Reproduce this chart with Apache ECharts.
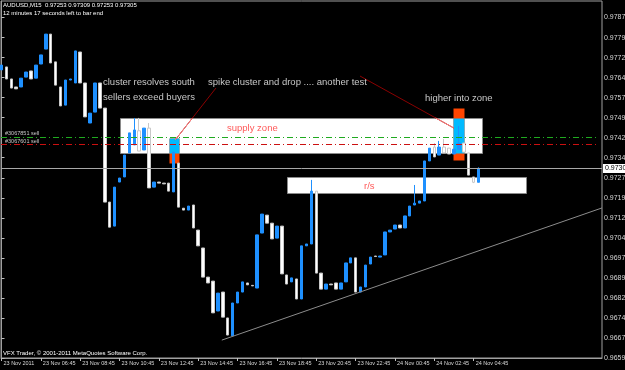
<!DOCTYPE html>
<html><head><meta charset="utf-8">
<script src="https://cdn.jsdelivr.net/npm/echarts@6/dist/echarts.min.js"></script>
<style>html,body{margin:0;padding:0;background:#000;}#c{width:625px;height:370px;}</style>
</head><body><div id="c"></div>
<script>
// ---- data (AUDUSD M15, 23 Nov 2011 04:45 -> 24 Nov 05:00) ----
const opens = [0.97674,0.97685,0.97640,0.97610,0.97610,0.97647,0.97670,0.97643,0.97696,0.97752,
0.97808,0.97704,0.97610,0.97542,0.97636,0.97625,0.97741,0.97625,0.97475,0.97516,
0.97625,0.97531,0.97179,0.97089,0.97254,0.97273,0.97363,0.97393,0.97446,0.97374,
0.97456,0.97235,0.97254,0.97250,0.97250,0.97217,0.97325,0.97156,0.97149,0.97168,
0.97074,0.97007,0.96898,0.96883,0.96771,0.96842,0.96745,0.96678,0.96801,0.96842,
0.96876,0.96867,0.96857,0.97063,0.97130,0.97100,0.97044,0.97089,0.96906,0.96880,
0.96891,0.96816,0.97015,0.97022,0.97220,0.96913,0.96853,0.96872,0.96876,0.96853,
0.96880,0.96951,0.96970,0.96842,0.96861,0.96947,0.96977,0.96973,0.96981,0.97067,
0.97078,0.97093,0.97082,0.97127,0.97168,0.97175,0.97183,0.97333,0.97385,0.97355,
0.97385,0.97381,0.97359,0.97377,0.97400,0.97363,0.97273,0.97253];
const closes = [0.97692,0.97640,0.97606,0.97603,0.97643,0.97666,0.97640,0.97692,0.97730,0.97808,
0.97700,0.97617,0.97539,0.97636,0.97640,0.97745,0.97625,0.97498,0.97512,0.97625,
0.97531,0.97179,0.97085,0.97235,0.97269,0.97355,0.97438,0.97449,0.97370,0.97456,
0.97232,0.97254,0.97250,0.97247,0.97220,0.97366,0.97160,0.97149,0.97164,0.97082,
0.97015,0.96898,0.96876,0.96764,0.96838,0.96748,0.96681,0.96801,0.96842,0.96880,
0.96869,0.96865,0.97056,0.97134,0.97100,0.97041,0.97089,0.96910,0.96872,0.96895,
0.96816,0.97015,0.97022,0.97220,0.96913,0.96853,0.96872,0.96869,0.96853,0.96876,
0.96951,0.96970,0.96842,0.96861,0.96943,0.96973,0.96975,0.96977,0.97067,0.97074,
0.97093,0.97082,0.97127,0.97164,0.97175,0.97183,0.97333,0.97381,0.97348,0.97385,
0.97363,0.97359,0.97377,0.97400,0.97366,0.97280,0.97253,0.97305];
const lows = [0.97674,0.97640,0.97606,0.97603,0.97610,0.97647,0.97640,0.97643,0.97696,0.97752,
0.97700,0.97617,0.97539,0.97542,0.97636,0.97625,0.97625,0.97498,0.97475,0.97516,
0.97531,0.97179,0.97085,0.97089,0.97254,0.97273,0.97363,0.97393,0.97370,0.97374,
0.97232,0.97235,0.97250,0.97247,0.97220,0.97217,0.97160,0.97149,0.97149,0.97082,
0.97015,0.96898,0.96876,0.96764,0.96771,0.96748,0.96681,0.96678,0.96801,0.96842,
0.96869,0.96865,0.96857,0.97063,0.97100,0.97041,0.97044,0.96910,0.96872,0.96880,
0.96816,0.96816,0.97015,0.97022,0.96913,0.96853,0.96853,0.96869,0.96853,0.96853,
0.96880,0.96951,0.96842,0.96842,0.96861,0.96947,0.96975,0.96973,0.96981,0.97067,
0.97078,0.97082,0.97082,0.97127,0.97168,0.97175,0.97183,0.97333,0.97348,0.97355,
0.97363,0.97359,0.97359,0.97377,0.97366,0.97280,0.97250,0.97253];
const highs = [0.97692,0.97685,0.97640,0.97610,0.97643,0.97666,0.97670,0.97692,0.97730,0.97808,
0.97808,0.97704,0.97610,0.97636,0.97640,0.97745,0.97741,0.97625,0.97512,0.97625,
0.97625,0.97531,0.97179,0.97235,0.97269,0.97355,0.97438,0.97494,0.97494,0.97456,
0.97475,0.97254,0.97254,0.97250,0.97250,0.97366,0.97325,0.97156,0.97164,0.97168,
0.97074,0.97007,0.96898,0.96883,0.96838,0.96842,0.96745,0.96801,0.96842,0.96880,
0.96876,0.96867,0.97056,0.97134,0.97130,0.97100,0.97089,0.97089,0.96906,0.96895,
0.96891,0.97015,0.97022,0.97262,0.97220,0.96913,0.96872,0.96872,0.96876,0.96876,
0.96951,0.96970,0.96970,0.96861,0.96943,0.96973,0.96977,0.96977,0.97067,0.97074,
0.97093,0.97093,0.97127,0.97164,0.97243,0.97183,0.97333,0.97381,0.97400,0.97408,
0.97415,0.97381,0.97377,0.97464,0.97400,0.97363,0.97273,0.97309];

const xTickIdx = [0,8,16,24,32,40,48,56,64,72,80,88,96];
const xTickLabels = ['23 Nov 2011','23 Nov 06:45','23 Nov 08:45','23 Nov 10:45','23 Nov 12:45',
 '23 Nov 14:45','23 Nov 16:45','23 Nov 18:45','23 Nov 20:45','23 Nov 22:45',
 '24 Nov 00:45','24 Nov 02:45','24 Nov 04:45'];
const yTicks = [0.96595,0.96670,0.96745,0.96820,0.96895,0.96970,0.97045,0.97120,0.97195,
 0.97270,0.97345,0.97420,0.97495,0.97570,0.97645,0.97720,0.97795,0.97870];

// annotation objects: [barFrom, barTo, priceHigh, priceLow]
const supplyZone = [24.1, 97.7, 0.97494, 0.97363];
const rsZone     = [58.1, 106.6, 0.97273, 0.97213];
const clusterBox = [34.1, 36.1, 0.97419, 0.97325];
const spikeBox   = [91.8, 94.0, 0.97531, 0.97337];
// order lines
const sellOrder1 = 0.97423;
const sellOrder2 = 0.97396;
const bidPrice = 0.97305;
// trendline and connector lines: [bar, price] pairs
const trendline = [[44.8, 0.96662], [122.1, 0.97157]];
const connector1 = [[35.3, 0.97411], [43.6, 0.97606]];
const connector2 = [[72.9, 0.97651], [92.0, 0.97456]];

// ---- chart ----
const X_MIN = -0.1, X_MAX = 122.1, Y_MIN = 0.96595, Y_MAX = 0.97932;
const chart = echarts.init(document.getElementById('c'), null, {renderer: 'canvas'});
const candleData = opens.map((o, i) => [i, o, closes[i], lows[i], highs[i]]);

const rects = [supplyZone, rsZone, clusterBox, spikeBox];
const rectKind = ['zone', 'zone', 'box', 'box'];
[clusterBox, spikeBox].forEach(b => {
  const hi = Math.min(b[2], supplyZone[2]), lo = Math.max(b[3], supplyZone[3]);
  if (hi > lo) { rects.push([b[0], b[1], hi, lo]); rectKind.push('xor'); }
});
const rectStyle = {
  zone: {fill: '#ffffff', stroke: '#8a8a8a', lineWidth: 1},
  box: {fill: '#ff4500'},
  xor: {fill: '#00baff'}
};
const rectZ = {zone: 1, box: 2, xor: 3};

const lines = [], lineStyle = [];
function addLine(p, st) { lines.push([p[0][0], p[0][1], p[1][0], p[1][1]]); lineStyle.push(st); }
addLine([[X_MIN, bidPrice], [X_MAX, bidPrice]], {stroke: '#a8a8a8', lineWidth: 1});
addLine([[X_MIN, sellOrder1], [121.3, sellOrder1]], {stroke: '#1faa1f', lineWidth: 1, lineDash: [6, 3, 1, 3]});
addLine([[X_MIN, sellOrder2], [121.3, sellOrder2]], {stroke: '#cc1010', lineWidth: 1, lineDash: [6, 3, 1, 3]});
addLine(trendline, {stroke: '#8c8c8c', lineWidth: 1});
[connector1, connector2].forEach(c => {
  addLine(c, {stroke: '#8b0000', lineWidth: 1});
  const p0 = c[0][1], p1 = c[1][1];
  const tA = (supplyZone[2] - p0) / (p1 - p0), tB = (supplyZone[3] - p0) / (p1 - p0);
  let t0 = Math.max(0, Math.min(tA, tB)), t1 = Math.min(1, Math.max(tA, tB));
  if (t1 > t0) {
    const pt = t => [c[0][0] + (c[1][0] - c[0][0]) * t, p0 + (p1 - p0) * t];
    addLine([pt(t0), pt(t1)], {stroke: '#ff7f7f', lineWidth: 1});
  }
});

const txt = (text, x, y, size, color, extra) => Object.assign({
  type: 'text', x: x, y: y, silent: true, z: 100,
  style: Object.assign({text: text, fill: color, fontSize: size, fontFamily: 'Liberation Sans', verticalAlign: 'middle'}, extra || {})
});

const option = {
  backgroundColor: '#000000',
  animation: false,
  grid: {left: 1, right: 23, top: 1, bottom: 12, show: true, borderColor: '#a0a0a0', borderWidth: 1,
    containLabel: false, outerBoundsMode: 'none'},
  xAxis: {
    type: 'value', min: X_MIN, max: X_MAX, position: 'bottom',
    axisLine: {show: true, lineStyle: {color: '#a0a0a0', width: 1}},
    axisTick: {show: true, customValues: xTickIdx, length: 3, lineStyle: {color: '#c0c0c0'}},
    axisLabel: {show: true, customValues: xTickIdx, color: '#d8d8d8', fontSize: 5.5, fontFamily: 'Liberation Sans',
      align: 'left', margin: 2, padding: [0, 0, 0, 2], hideOverlap: false,
      formatter: v => xTickLabels[xTickIdx.indexOf(Math.round(v))] || ''},
    splitLine: {show: false}
  },
  yAxis: {
    type: 'value', min: Y_MIN, max: Y_MAX, position: 'right', scale: true,
    axisLine: {show: true, lineStyle: {color: '#a0a0a0', width: 1}},
    axisTick: {show: true, customValues: yTicks, length: 3, lineStyle: {color: '#c0c0c0'}},
    axisLabel: {show: true, customValues: yTicks, color: '#d8d8d8', fontSize: 7, fontFamily: 'Liberation Sans',
      margin: 2, formatter: v => v.toFixed(5)},
    splitLine: {show: false}
  },
  series: [
    {
      type: 'custom', name: 'objects', z: 1, clip: true,
      encode: {x: [0, 1], y: [2, 3]},
      data: rects,
      renderItem: (params, api) => {
        const k = rectKind[params.dataIndex];
        const a = api.coord([api.value(0), api.value(2)]);
        const b = api.coord([api.value(1), api.value(3)]);
        const x = Math.round(a[0]), y = Math.round(a[1]);
        return {type: 'rect', z2: rectZ[k],
          shape: {x: x + 0.5, y: y + 0.5, width: Math.round(b[0]) - x, height: Math.round(b[1]) - y},
          style: rectStyle[k]};
      }
    },
    {
      type: 'candlestick', name: 'AUDUSD,M15', z: 3,
      data: candleData,
      encode: {x: 0, y: [1, 2, 3, 4]},
      barWidth: 3,
      itemStyle: {color: '#1e90ff', color0: '#ffffff', borderColor: '#1e90ff', borderColor0: '#c8c8c8', borderWidth: 1}
    },
    {
      type: 'custom', name: 'lines', z: 4, clip: true,
      encode: {x: [0, 2], y: [1, 3]},
      data: lines,
      renderItem: (params, api) => {
        const st = lineStyle[params.dataIndex];
        const a = api.coord([api.value(0), api.value(1)]);
        const b = api.coord([api.value(2), api.value(3)]);
        let y1 = a[1], y2 = b[1];
        if (Math.abs(y1 - y2) < 0.01) { y1 = y2 = Math.round(y1) + 0.5; }
        return {type: 'line', shape: {x1: a[0], y1: y1, x2: b[0], y2: y2}, style: st};
      }
    }
  ],
  graphic: []
};
chart.setOption(option);

const bidY = Math.round(chart.convertToPixel({yAxisIndex: 0}, bidPrice));
chart.setOption({graphic: [
  txt('AUDUSD,M15  0.97253 0.97309 0.97253 0.97305', 3, 5, 6, '#ffffff'),
  txt('12 minutes 17 seconds left to bar end', 3, 13, 6, '#ffffff'),
  txt('VFX Trader, \u00a9 2001-2011 MetaQuotes Software Corp.', 3, 353, 6, '#ffffff'),
  txt('cluster resolves south', 103, 82, 9.5, '#c8c8c8'),
  txt('sellers exceed buyers', 103, 97, 9.5, '#c8c8c8'),
  txt('spike cluster and drop .... another test', 208, 82, 9.5, '#c8c8c8'),
  txt('higher into zone', 425, 98, 9.5, '#c8c8c8'),
  txt('supply zone', 227, 128, 9.5, '#ff5a5a'),
  txt('r/s', 364, 186, 9.5, '#ff5a5a'),
  txt('#3067851 sell', 5, 133, 5.5, '#c8c8c8'),
  txt('#3067601 sell', 5, 141, 5.5, '#c8c8c8'),
  {type: 'rect', x: 603, y: bidY - 4, z: 100, shape: {width: 24, height: 9}, style: {fill: '#ffffff'}},
  txt(bidPrice.toFixed(5), 605, bidY + 0.5, 7, '#000000')
]});
</script></body></html>
